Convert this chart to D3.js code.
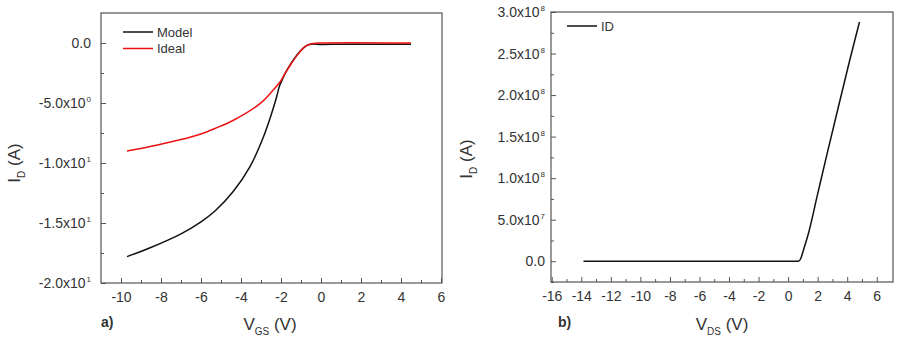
<!DOCTYPE html>
<html>
<head>
<meta charset="utf-8">
<script src="https://cdn.jsdelivr.net/npm/d3@7"></script>
<style>
  body { margin: 0; background: #fff; }
  text { font-family: "Liberation Sans", Arial, sans-serif; fill: #333; }
</style>
</head>
<body>
<div id="chart"></div>
<script>
// panel a) transfer curve
var vgsModel = [-9.7, -8.6, -7.0, -6.0, -5.3, -4.4, -3.55, -2.88, -2.47, -2.22, -2.08, -2.0, -1.8, -1.5, -1.2, -0.9, -0.7, -0.4, 0, 1, 2, 3, 4, 4.5];
var idModel  = [-17.8, -17.1, -15.9, -14.9, -14.0, -12.4, -10.3, -7.83, -5.88, -4.5, -3.6, -3.3, -2.55, -1.7, -1.0, -0.45, -0.2, -0.08, -0.12, -0.1, -0.1, -0.1, -0.1, -0.1];
var vgsIdeal = [-9.7, -8.6, -7.0, -6.05, -5.3, -4.38, -3.05, -2.4, -2.05, -1.8, -1.5, -1.2, -0.9, -0.7, -0.4, 0, 4.5];
var idIdeal  = [-9.0, -8.65, -8.05, -7.6, -7.12, -6.44, -5.05, -3.94, -3.25, -2.55, -1.75, -1.03, -0.45, -0.2, -0.05, 0, 0];
var aXTicks = [-10, -8, -6, -4, -2, 0, 2, 4, 6];
var aYTicks = [-20, -15, -10, -5, 0];

// panel b) output curve
var vds = [-13.85, -8, -2, 0.7, 0.85, 1.03, 1.37, 2.0, 2.62, 3.57, 4.2, 4.83];
var idOut = [0, 0, 0, 0, 3e6, 1.3e7, 3.3e7, 8.1e7, 1.28e8, 1.98e8, 2.44e8, 2.88e8];
var bXTicks = [-16, -14, -12, -10, -8, -6, -4, -2, 0, 2, 4, 6];
var bYTicks = [0, 5e7, 1e8, 1.5e8, 2e8, 2.5e8, 3e8];

var svg = d3.select("#chart").append("svg")
  .attr("width", 898).attr("height", 341);

function sci(v) {
  if (v === 0) return ["0.0", null];
  var e = Math.floor(Math.log10(Math.abs(v)) + 1e-9);
  return [(v / Math.pow(10, e)).toFixed(1) + "x10", String(e)];
}

function panel(o) {
  var g = svg.append("g").attr("transform", "translate(" + o.left + "," + o.top + ")");
  var x = d3.scaleLinear().domain(o.xDomain).range([0, o.w]);
  var y = d3.scaleLinear().domain(o.yDomain).range([o.h, 0]);

  // minor ticks
  var xMinor = [], yMinor = [];
  for (var i = 0; i < o.xTicks.length - 1; i++) xMinor.push((o.xTicks[i] + o.xTicks[i + 1]) / 2);
  for (var j = 0; j < o.yTicks.length - 1; j++) yMinor.push((o.yTicks[j] + o.yTicks[j + 1]) / 2);
  yMinor.push(o.yTicks[0] - (o.yTicks[1] - o.yTicks[0]) / 2);
  yMinor = yMinor.filter(function(v) { return v >= o.yDomain[0] && v <= o.yDomain[1]; });

  g.append("g").attr("transform", "translate(0," + o.h + ")")
    .call(d3.axisBottom(x).tickValues(xMinor).tickSize(-3).tickFormat(""));
  g.append("g")
    .call(d3.axisLeft(y).tickValues(yMinor).tickSize(-3).tickFormat(""));

  var xa = g.append("g").attr("transform", "translate(0," + o.h + ")")
    .call(d3.axisBottom(x).tickValues(o.xTicks).tickSize(-5).tickPadding(9)
      .tickFormat(function(d) { return String(d); }));
  var ya = g.append("g")
    .call(d3.axisLeft(y).tickValues(o.yTicks).tickSize(-5).tickPadding(o.yPad));

  g.selectAll(".domain").remove();
  g.selectAll(".tick line").attr("stroke", "#555");
  xa.selectAll("text").style("font-size", "14px").attr("fill", "#333")
    .style("font-family", "'Liberation Sans', Arial, sans-serif");
  ya.selectAll("text").style("font-size", "14px").attr("fill", "#333")
    .style("font-family", "'Liberation Sans', Arial, sans-serif")
    .each(function(d) {
      var t = d3.select(this), p = sci(d);
      t.text(p[0]);
      if (p[1] !== null) t.append("tspan").attr("dy", -6).attr("dx", 1).style("font-size", "8px").text(p[1]);
    });

  g.append("rect").attr("width", o.w).attr("height", o.h)
    .attr("fill", "none").attr("stroke", "#555").attr("stroke-width", 1.2);

  var line = d3.line().x(function(d) { return x(d[0]); }).y(function(d) { return y(d[1]); })
    .curve(o.curve);
  o.series.forEach(function(s, k) {
    g.append("path").datum(d3.zip(s.x, s.y))
      .attr("d", line).attr("fill", "none")
      .attr("stroke", s.color).attr("stroke-width", 1.5);
    g.append("line").attr("x1", o.legX).attr("x2", o.legX + 30)
      .attr("y1", o.legY + k * 16.5).attr("y2", o.legY + k * 16.5)
      .attr("stroke", s.color).attr("stroke-width", 1.5);
    g.append("text").attr("x", o.legX + 34).attr("y", o.legY + k * 16.5 + 4.5)
      .style("font-size", "13px").text(s.name);
  });

  // axis titles
  var xt = svg.append("text").attr("x", o.xTitleX).attr("y", 330)
    .attr("text-anchor", "middle").style("font-size", "17px");
  xt.append("tspan").text("V");
  xt.append("tspan").attr("dy", 5).style("font-size", "10px").text(o.sub);
  xt.append("tspan").attr("dy", -5).text(" (V)");

  var yt = svg.append("text").attr("transform", "translate(" + o.yTitleX + "," + o.yTitleY + ") rotate(-90)")
    .attr("text-anchor", "middle").style("font-size", "17px");
  yt.append("tspan").text("I");
  yt.append("tspan").attr("dy", 5).style("font-size", "10px").text("D");
  yt.append("tspan").attr("dy", -5).text(" (A)");

  svg.append("text").attr("x", o.left + o.tagDx).attr("y", 327)
    .style("font-size", "14px").style("font-weight", "bold").text(o.tag);
}

panel({
  left: 101, top: 13, w: 341, h: 270,
  xDomain: [-11, 6.05], yDomain: [-20, 2.5],
  xTicks: aXTicks, yTicks: aYTicks, yPad: 10,
  curve: d3.curveCatmullRom.alpha(0.5),
  series: [
    {name: "Model", color: "#111", x: vgsModel, y: idModel},
    {name: "Ideal", color: "#ee1111", x: vgsIdeal, y: idIdeal}
  ],
  legX: 22, legY: 19, sub: "GS", xTitleX: 270, yTitleX: 20, yTitleY: 163,
  tag: "a)", tagDx: 0
});

panel({
  left: 551, top: 12, w: 342, h: 270,
  xDomain: [-16.05, 7.1], yDomain: [-2.5e7, 3.0e8],
  xTicks: bXTicks, yTicks: bYTicks, yPad: 6,
  curve: d3.curveMonotoneX,
  series: [
    {name: "ID", color: "#111", x: vds, y: idOut}
  ],
  legX: 16, legY: 14, sub: "DS", xTitleX: 722, yTitleX: 472, yTitleY: 159,
  tag: "b)", tagDx: 7
});
</script>
</body>
</html>
